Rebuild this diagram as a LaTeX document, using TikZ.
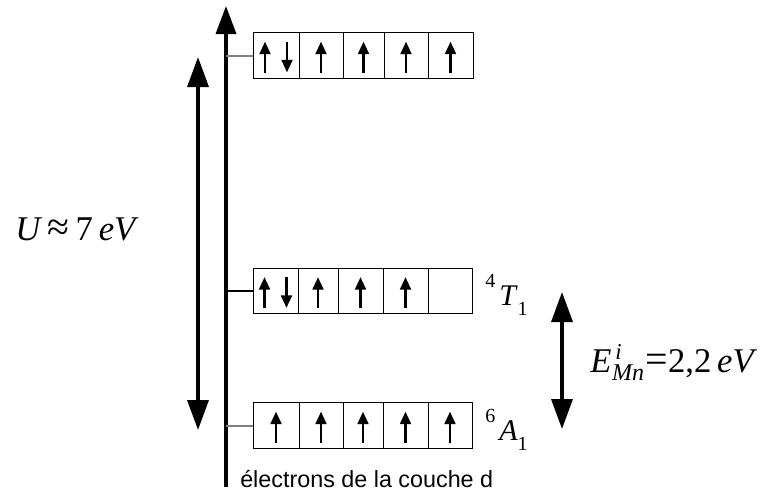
\documentclass[tikz,border=0pt]{standalone}
\usepackage{fontspec}
\setmainfont{Liberation Serif}
\newfontfamily\arialf{Liberation Sans}
\usetikzlibrary{arrows.meta,calc}
\begin{document}
\begin{tikzpicture}[x=0.75pt,y=-0.75pt,
  cell/.style={draw=black, line width=0.75pt, inner sep=0pt, minimum height=34pt},
  spinarrow/.style={line width=2.2pt, -{Triangle[width=8pt,length=9.5pt]}},
  axisline/.style={line width=2.6pt, -{Triangle[width=15pt,length=21pt]}},
  bigdbl/.style={line width=2.6pt, {Triangle[width=15.75pt,length=22.5pt]}-{Triangle[width=15.75pt,length=22.5pt]}},
  tickgray/.style={draw=gray, line width=1.5pt},
  tickblack/.style={draw=black, line width=1pt},
  lbl/.style={anchor=base west, inner sep=0pt}]
\useasboundingbox (0,0) rectangle (770,494);

% axis
\coordinate (axisbot) at (226,487);
\coordinate (axistop) at (226,6);
\draw[axisline] (axisbot) -- (axistop);

% top row
\node[cell, minimum width={46*0.75pt}] (t1) at (276,55.5) {};
\node[cell, minimum width={44*0.75pt}] (t2) at (321,55.5) {};
\node[cell, minimum width={41*0.75pt}] (t3) at (363.5,55.5) {};
\node[cell, minimum width={44*0.75pt}] (t4) at (406,55.5) {};
\node[cell, minimum width={45*0.75pt}] (t5) at (450.5,55.5) {};
% middle row
\node[cell, minimum width={45*0.75pt}] (m1) at (275.5,291) {};
\node[cell, minimum width={40*0.75pt}] (m2) at (318,291) {};
\node[cell, minimum width={45*0.75pt}] (m3) at (360.5,291) {};
\node[cell, minimum width={45*0.75pt}] (m4) at (405.5,291) {};
\node[cell, minimum width={44*0.75pt}] (m5) at (450,291) {};
% bottom row
\node[cell, minimum width={46*0.75pt}] (b1) at (276,425.5) {};
\node[cell, minimum width={44*0.75pt}] (b2) at (321,425.5) {};
\node[cell, minimum width={40*0.75pt}] (b3) at (363,425.5) {};
\node[cell, minimum width={45*0.75pt}] (b4) at (405.5,425.5) {};
\node[cell, minimum width={44*0.75pt}] (b5) at (450,425.5) {};

% ticks from axis to rows
\draw[tickgray] (axisbot |- t1.west) -- (t1.west);
\draw[tickblack] (axisbot |- m1.west) -- (m1.west);
\draw[tickgray] (axisbot |- b1.west) -- (b1.west);

% paired spins
\foreach \c in {t1,m1}{
  \draw[spinarrow] ($(\c)+(-11,17)$) -- ($(\c)+(-11,-14)$);
  \draw[spinarrow] ($(\c)+(11,-14)$) -- ($(\c)+(11,17)$);
}
% single up spins
\foreach \c in {t2,t3,t4,t5,m2,m3,m4,b1,b2,b3,b4,b5}{
  \draw[spinarrow] ($(\c)+(0,17)$) -- ($(\c)+(0,-14)$);
}

% big double arrows
\coordinate (ua) at (198,57);
\coordinate (ub) at (198,430);
\draw[bigdbl] (ua) -- (ub);
\coordinate (ea) at (562,292);
\coordinate (eb) at (562,429);
\draw[bigdbl] (ea) -- (eb);

% labels
\node[lbl, font=\fontsize{26}{30}\selectfont] (ulabel) at (15,240)
  {\textit{U}\,{\fontsize{30}{30}\selectfont ≈}\,7\,\textit{eV}};
\node[lbl, font=\fontsize{26}{30}\selectfont] (elabel) at (590,372)
  {\textit{E}\rlap{\raisebox{9.5pt}{\fontsize{17}{17}\selectfont\kern3pt\textit{i}}}\kern0.5pt\raisebox{-6pt}{\fontsize{18}{18}\selectfont\textit{Mn}}\kern1pt{\fontsize{30}{30}\selectfont =}2,2\,\textit{eV}};
\node[lbl, font=\fontsize{22.5}{26}\selectfont] (tlabel) at (485,305)
  {\raisebox{13.5pt}{\fontsize{15}{15}\selectfont 4}\kern3pt\textit{T}\raisebox{-7.5pt}{\fontsize{15}{15}\selectfont 1}};
\node[lbl, font=\fontsize{22.5}{26}\selectfont] (alabel) at (485,440)
  {\raisebox{13.5pt}{\fontsize{15}{15}\selectfont 6}\kern3pt\textit{A}\raisebox{-7.5pt}{\fontsize{15}{15}\selectfont 1}};
\node[lbl, font=\arialf\fontsize{17.5}{20}\selectfont] (dlabel) at (240,487)
  {électrons de la couche d};
\end{tikzpicture}
\end{document}
